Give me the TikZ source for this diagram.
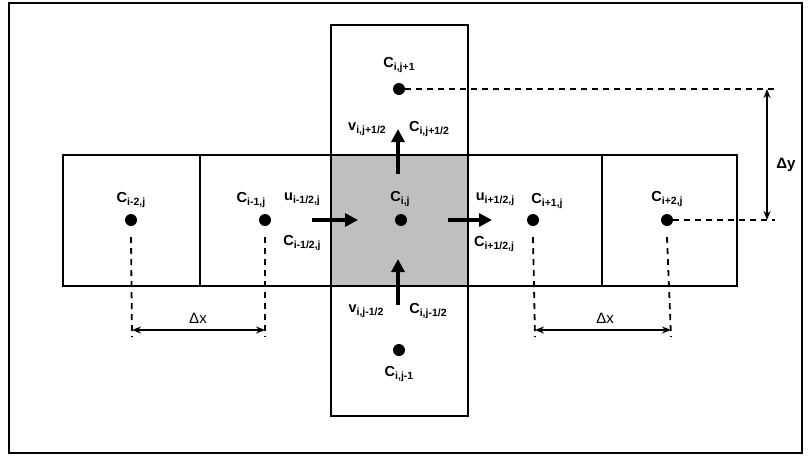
\documentclass[tikz,border=0pt]{standalone}
\usepackage{fontspec}
\setmainfont{Liberation Sans}
\usetikzlibrary{arrows.meta}
\newcommand\sublab[2]{#1\raisebox{-0.35ex}{\fontsize{10.5}{10.5}\selectfont\bfseries #2}}
\begin{document}
\begin{tikzpicture}[x=1pt,y=-1pt,
  cellbox/.style={draw, line width=1.9pt},
  dotnode/.style={circle, fill=black, inner sep=0pt, minimum size=12pt},
  lbl/.style={inner sep=0pt, font=\fontsize{14.5}{14.5}\selectfont\bfseries},
  fluxarrow/.style={-{Triangle[length=13pt,width=13pt]}, line width=3.2pt},
  dimarrow/.style={{Stealth[length=9pt,width=7pt]}-{Stealth[length=9pt,width=7pt]}, line width=2pt},
  dashline/.style={dash pattern=on 6pt off 5pt, line width=1.8pt}]
\useasboundingbox (0,0) rectangle (810,456);
\draw[line width=2.2pt] (9,3) rectangle (802,453);
% cells
\fill[black!25] (331,155) rectangle (468,286);
\draw[cellbox] (331,25) rectangle (468,416);
\draw[cellbox] (63,155) rectangle (737,286);
\draw[cellbox] (200,155) -- (200,286);
\draw[cellbox] (602,155) -- (602,286);
% dots
\node[dotnode] (d1) at (131,220) {};
\node[dotnode] (d2) at (265,220) {};
\node[dotnode] (d3) at (401,220) {};
\node[dotnode] (d4) at (533,220) {};
\node[dotnode] (d5) at (667,220) {};
\node[dotnode] (dt) at (399,89) {};
\node[dotnode] (db) at (399,350) {};
% labels
\node[lbl] (l1) at (131,200) {\sublab{C}{i-2,j}};
\node[lbl] (l2) at (251,200) {\sublab{C}{i-1,j}};
\node[lbl] (l3) at (400,199) {\sublab{C}{i,j}};
\node[lbl] (l4) at (547,201) {\sublab{C}{i+1,j}};
\node[lbl] (l5) at (667,199) {\sublab{C}{i+2,j}};
\node[lbl] (lu1) at (302,199) {\sublab{u}{i-1/2,j}};
\node[lbl] (lc1) at (302,243) {\sublab{C}{i-1/2,j}};
\node[lbl] (lu2) at (495,199) {\sublab{u}{i+1/2,j}};
\node[lbl] (lc2) at (494,244) {\sublab{C}{i+1/2,j}};
\node[lbl] (lt) at (399,65) {\sublab{C}{i,j+1}};
\node[lbl] (lvt) at (367,129) {\sublab{v}{i,j+1/2}};
\node[lbl] (lct) at (429,129) {\sublab{C}{i,j+1/2}};
\node[lbl] (lvb) at (366,311) {\sublab{v}{i,j-1/2}};
\node[lbl] (lcb) at (428,311) {\sublab{C}{i,j-1/2}};
\node[lbl] (lb) at (399,374) {\sublab{C}{i,j-1}};
% flux arrows
\coordinate (a1s) at (312,220); \coordinate (a1e) at (358,220);
\coordinate (a2s) at (448,220); \coordinate (a2e) at (492,220);
\coordinate (a3s) at (398,174); \coordinate (a3e) at (398,129);
\coordinate (a4s) at (398,305); \coordinate (a4e) at (398,259);
\draw[fluxarrow] (a1s) -- (a1e);
\draw[fluxarrow] (a2s) -- (a2e);
\draw[fluxarrow] (a3s) -- (a3e);
\draw[fluxarrow] (a4s) -- (a4e);
% dashed dimension lines
\coordinate (e1) at (132,337); \coordinate (e2) at (265,337);
\coordinate (e4) at (535,337); \coordinate (e5) at (671,337);
\draw[dashline] ([yshift=-11pt]d1.south) -- (e1);
\draw[dashline] ([yshift=-11pt]d2.south) -- (e2);
\draw[dashline] ([yshift=-11pt]d4.south) -- (e4);
\draw[dashline] ([yshift=-11pt]d5.south) -- (e5);
\coordinate (x1) at (132,330); \coordinate (x2) at (265,330);
\coordinate (x4) at (535,330); \coordinate (x5) at (671,330);
\draw[dimarrow] (x1) -- (x2);
\draw[dimarrow] (x4) -- (x5);
\node[lbl, font=\fontsize{15}{15}\selectfont] (dx1) at (198,318) {Δx};
\node[lbl, font=\fontsize{15}{15}\selectfont] (dx2) at (605,318) {Δx};
\coordinate (ht) at (775,89); \coordinate (hb) at (775,220);
\draw[dashline] (dt.east) -- (ht);
\draw[dashline] (d5.east) -- (hb);
\coordinate (yt) at (767,89); \coordinate (yb) at (767,220);
\draw[dimarrow] (yt) -- (yb);
\node[lbl, font=\fontsize{15}{15}\selectfont\bfseries] (dy) at (786,165) {Δy};
\end{tikzpicture}
\end{document}
